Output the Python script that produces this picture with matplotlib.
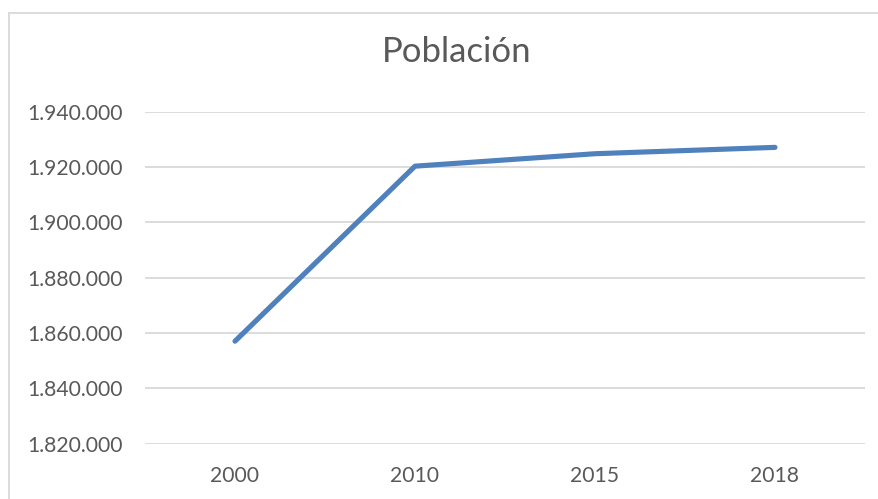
import matplotlib
matplotlib.use("Agg")
import matplotlib.pyplot as plt
from matplotlib.lines import Line2D
from matplotlib.ticker import FuncFormatter

years = ["2000", "2010", "2015", "2018"]
poblacion = [1857000, 1920300, 1924800, 1927100]
y_ticks = [1820000, 1840000, 1860000, 1880000, 1900000, 1920000, 1940000]

TXT = "#595959"
GRID = "#D9D9D9"
BLUE = "#4F81BD"

plt.rcParams["font.family"] = ["Lato", "DejaVu Sans"]

fig = plt.figure(figsize=(8.79, 4.99), dpi=100)
ax = fig.add_axes([145 / 879, 1 - 443.5 / 499, 720 / 879, (443.5 - 111.7) / 499])

x = list(range(len(years)))
ax.plot(x, poblacion, color=BLUE, lw=3.7, solid_capstyle="round",
        solid_joinstyle="round", zorder=3)

ax.set_xlim(-0.5, len(years) - 0.5)
ax.set_ylim(y_ticks[0], y_ticks[-1])
ax.set_xticks(x)
ax.set_xticklabels(years)
ax.set_yticks(y_ticks)
ax.yaxis.set_major_formatter(
    FuncFormatter(lambda v, _: f"{v:,.0f}".replace(",", ".")))
ax.tick_params(length=0, labelsize=15.2, colors=TXT, pad=16)
ax.grid(axis="y", color=GRID, lw=1.3)
ax.set_axisbelow(True)
for s in ax.spines.values():
    s.set_visible(False)

fig.text(457 / 879, 1 - 52 / 499, "Población", ha="center", va="center",
         fontsize=25, color=TXT)

# chart border (only top and left visible in the crop)
fig.add_artist(Line2D([8.5 / 879, 8.5 / 879], [0, 1 - 12.5 / 499],
                      transform=fig.transFigure, color=GRID, lw=1.3))
fig.add_artist(Line2D([8.5 / 879, 1], [1 - 12.5 / 499, 1 - 12.5 / 499],
                      transform=fig.transFigure, color=GRID, lw=1.3))

fig.savefig("out.png", dpi=100)
